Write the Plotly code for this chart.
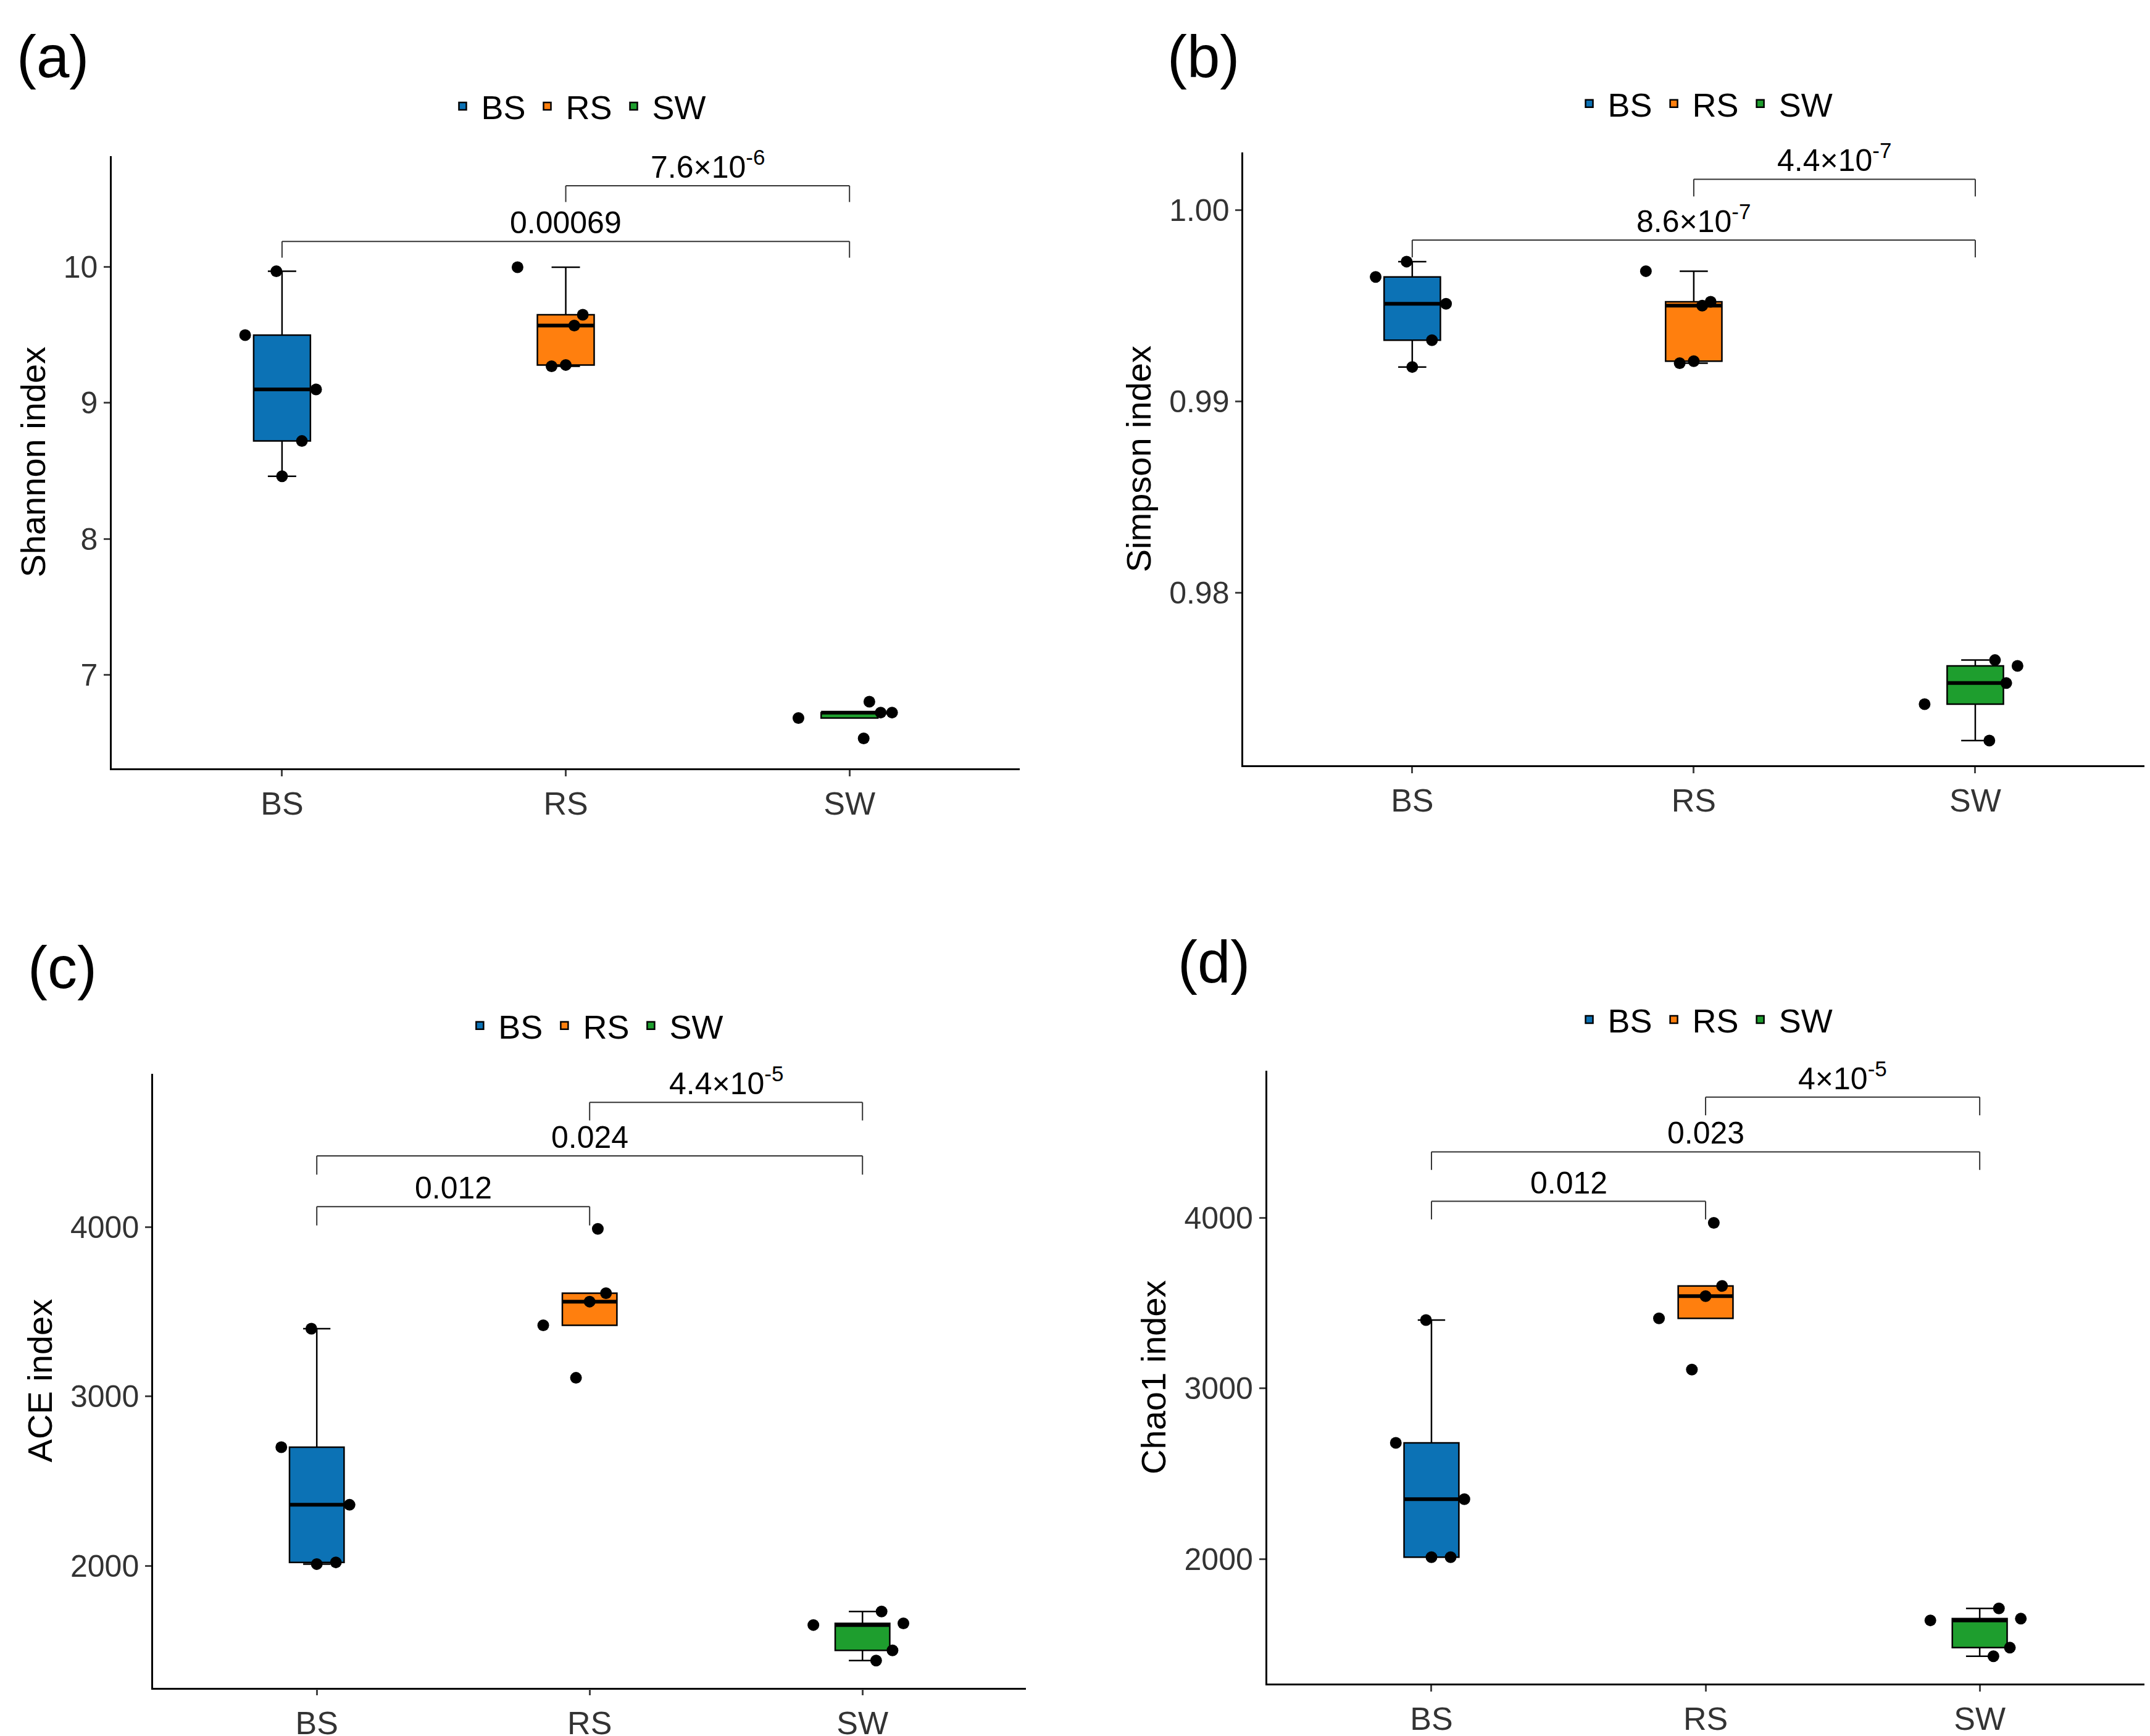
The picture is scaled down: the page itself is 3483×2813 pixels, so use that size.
import numpy as np
import plotly.graph_objects as go

groups = ["BS", "RS", "SW"]
colors = {"BS": "#0C72B5", "RS": "#FF7F0E", "SW": "#1E9E2E"}

shannon = {"BS": [9.5, 9.97, 9.1, 8.72, 8.46], "RS": [10.0, 9.65, 9.57, 9.28, 9.27], "SW": [6.68, 6.8, 6.72, 6.72, 6.53]}
simpson = {"BS": [0.9965, 0.9973, 0.9951, 0.9932, 0.9918], "RS": [0.9968, 0.9952, 0.9950, 0.9921, 0.9920], "SW": [0.9742, 0.9765, 0.9762, 0.9753, 0.9723]}
ace = {"BS": [2700, 3400, 2360, 2020, 2010], "RS": [3420, 3610, 3990, 3560, 3110], "SW": [1650, 1730, 1660, 1500, 1440]}
chao1 = {"BS": [2680, 3400, 2350, 2010, 2010], "RS": [3410, 3600, 3970, 3540, 3110], "SW": [1640, 1710, 1650, 1480, 1430]}
jitter = {"BS": [-0.13, -0.02, 0.12, 0.07, 0.0], "RS": [-0.17, 0.06, 0.03, 0.0, -0.05], "SW": [-0.18, 0.07, 0.15, 0.11, 0.05]}

panels = [
    dict(label="(a)", data=shannon, title="Shannon index", rng=[6.31, 10.82], ticks=[7, 8, 9, 10], ticktext=["7", "8", "9", "10"],
         dom=([0.0497, 0.472], [0.560, 0.913]), leg=(0.266, 0.9415), lab=(0.005, 0.99),
         brackets=[(2, 3, 10.6, 10.48, "7.6×10<sup>-6</sup>"), (1, 3, 10.19, 10.07, "0.00069")]),
    dict(label="(b)", data=simpson, title="Simpson index", rng=[0.9710, 1.003], ticks=[0.98, 0.99, 1.0], ticktext=["0.98", "0.99", "1.00"],
         dom=([0.576, 0.995], [0.5616, 0.915]), leg=(0.79, 0.943), lab=(0.54, 0.99),
         brackets=[(2, 3, 1.0016, 1.0007, "4.4×10<sup>-7</sup>"), (1, 3, 0.99842, 0.99752, "8.6×10<sup>-7</sup>")]),
    dict(label="(c)", data=ace, title="ACE index", rng=[1280, 4907], ticks=[2000, 3000, 4000], ticktext=["2000", "3000", "4000"],
         dom=([0.0689, 0.475], [0.030, 0.384]), leg=(0.274, 0.4115), lab=(0.01, 0.465),
         brackets=[(2, 3, 4737, 4630, "4.4×10<sup>-5</sup>"), (1, 3, 4421, 4310, "0.024"), (1, 2, 4121, 4010, "0.012")]),
    dict(label="(d)", data=chao1, title="Chao1 index", rng=[1270, 4860], ticks=[2000, 3000, 4000], ticktext=["2000", "3000", "4000"],
         dom=([0.587, 0.995], [0.0324, 0.3855]), leg=(0.79, 0.415), lab=(0.545, 0.468),
         brackets=[(2, 3, 4707, 4600, "4×10<sup>-5</sup>"), (1, 3, 4386, 4280, "0.023"), (1, 2, 4096, 3990, "0.012")]),
]


def stats(v):
    a = np.array(v, dtype=float)
    q1, med, q3 = np.percentile(a, [25, 50, 75])
    iqr = q3 - q1
    lo = a[a >= q1 - 1.5 * iqr].min()
    hi = a[a <= q3 + 1.5 * iqr].max()
    return q1, med, q3, lo, hi


fig = go.Figure()
shapes, annots = [], []
layout = {}
for i, p in enumerate(panels):
    k = "" if i == 0 else str(i + 1)
    xa, ya = "x" + k, "y" + k
    legname = "legend" if i == 0 else "legend" + str(i + 1)
    for j, g in enumerate(groups):
        q1, med, q3, lo, hi = stats(p["data"][g])
        fig.add_trace(go.Box(x=[j + 1], q1=[q1], median=[med], q3=[q3], lowerfence=[lo], upperfence=[hi],
                             name=g, xaxis=xa, yaxis=ya, boxpoints=False,
                             fillcolor=colors[g], line=dict(color="black", width=2.5), width=0.2,
                             whiskerwidth=0.5, legend=legname, hoverinfo="skip"))
        shapes.append(dict(type="line", xref=xa, yref=ya, x0=j + 0.9, x1=j + 1.1, y0=med, y1=med,
                           line=dict(color="black", width=6)))
    for j, g in enumerate(groups):
        fig.add_trace(go.Scatter(x=[j + 1 + d for d in jitter[g]], y=p["data"][g], mode="markers",
                                 marker=dict(color="black", size=19), xaxis=xa, yaxis=ya, showlegend=False))
    layout["xaxis" + k] = dict(domain=p["dom"][0], anchor=ya, range=[0.4, 3.6], tickvals=[1, 2, 3], ticktext=groups,
                               showline=True, linecolor="black", linewidth=2.5, ticks="outside", ticklen=10, tickwidth=2.5,
                               showgrid=False, zeroline=False, tickfont=dict(size=52, color="#333"))
    layout["yaxis" + k] = dict(domain=p["dom"][1], anchor=xa, range=p["rng"], tickvals=p["ticks"], ticktext=p["ticktext"],
                               showline=True, linecolor="black", linewidth=2.5, ticks="outside", ticklen=10, tickwidth=2.5,
                               showgrid=False, zeroline=False, tickfont=dict(size=50, color="#333"),
                               title=dict(text=p["title"], font=dict(size=56, color="black"), standoff=12))
    layout[legname] = dict(orientation="h", x=p["leg"][0], y=p["leg"][1], xanchor="center", yanchor="middle",
                           font=dict(size=54), itemwidth=50, bgcolor="rgba(0,0,0,0)")
    for (a, b, top, leg, txt) in p["brackets"]:
        for (x0, y0, x1, y1) in [(a, leg, a, top), (a, top, b, top), (b, top, b, leg)]:
            shapes.append(dict(type="line", xref=xa, yref=ya, x0=x0, y0=y0, x1=x1, y1=y1, line=dict(color="#333", width=2)))
        annots.append(dict(xref=xa, yref=ya, x=(a + b) / 2, y=top, text=txt, showarrow=False, yanchor="bottom",
                           yshift=0, font=dict(size=50, color="black")))
    annots.append(dict(xref="paper", yref="paper", x=p["lab"][0], y=p["lab"][1], text=p["label"], showarrow=False,
                       xanchor="left", yanchor="top", font=dict(size=96, color="black")))

fig.update_layout(width=3483, height=2813, plot_bgcolor="white", paper_bgcolor="white",
                  font=dict(family="Liberation Sans, Arial", color="black"),
                  margin=dict(l=0, r=0, t=0, b=0), shapes=shapes, annotations=annots, **layout)
fig.write_html("out.html")
